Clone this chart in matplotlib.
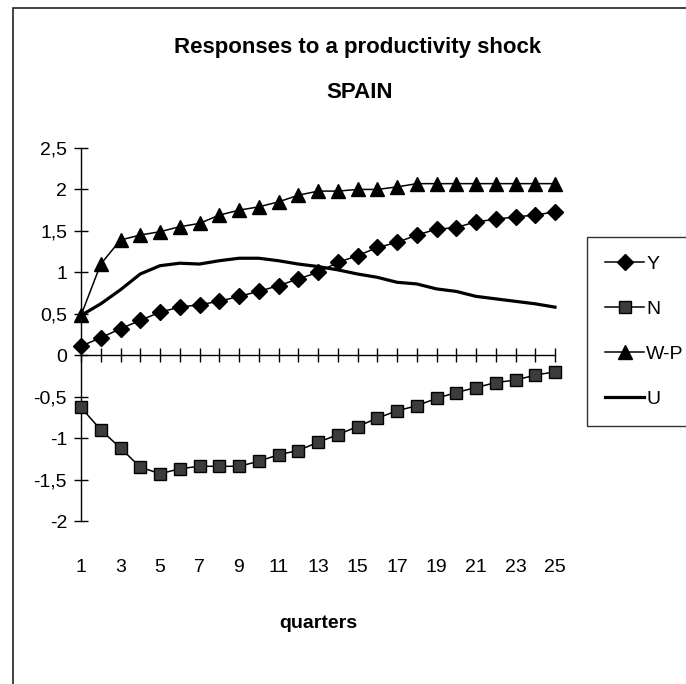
import matplotlib
matplotlib.use("Agg")
import matplotlib.pyplot as plt
from matplotlib.patches import Rectangle

plt.rcParams['font.family'] = ['Liberation Sans', 'DejaVu Sans']

# impulse responses, quarters 1..25
quarters = list(range(1, 26))
resp_y = [0.11, 0.21, 0.32, 0.42, 0.52, 0.58, 0.61, 0.65, 0.71, 0.77, 0.84, 0.92, 1.00,
          1.12, 1.20, 1.30, 1.36, 1.45, 1.52, 1.54, 1.61, 1.64, 1.67, 1.69, 1.73]
resp_n = [-0.63, -0.90, -1.12, -1.35, -1.43, -1.37, -1.34, -1.34, -1.34, -1.28, -1.20, -1.15, -1.05,
          -0.96, -0.86, -0.76, -0.67, -0.61, -0.52, -0.45, -0.39, -0.33, -0.30, -0.24, -0.20]
resp_wp = [0.48, 1.10, 1.39, 1.45, 1.49, 1.55, 1.59, 1.69, 1.75, 1.79, 1.85, 1.93, 1.98,
           1.98, 2.00, 2.00, 2.03, 2.07, 2.07, 2.07, 2.07, 2.07, 2.07, 2.07, 2.07]
resp_u = [0.48, 0.62, 0.79, 0.98, 1.08, 1.11, 1.10, 1.14, 1.17, 1.17, 1.14, 1.10, 1.07,
          1.03, 0.98, 0.94, 0.88, 0.86, 0.80, 0.77, 0.71, 0.68, 0.65, 0.62, 0.58]

yticks = [-2, -1.5, -1, -0.5, 0, 0.5, 1, 1.5, 2, 2.5]
ytick_labels = ["-2", "-1,5", "-1", "-0,5", "0", "0,5", "1", "1,5", "2", "2,5"]
xtick_labels = list(range(1, 26, 2))

fig = plt.figure(figsize=(6.86, 6.84), dpi=100)
ax = fig.add_axes([81 / 686, 1 - 521 / 684, 474 / 686, 373 / 684])

ax.plot(quarters, resp_y, color='black', lw=1.1, marker='D', ms=8,
        mfc='black', mec='black', label='Y', clip_on=False, zorder=4)
ax.plot(quarters, resp_n, color='black', lw=1.1, marker='s', ms=9,
        mfc='#3c3c3c', mec='black', label='N', clip_on=False, zorder=4)
ax.plot(quarters, resp_wp, color='black', lw=1.1, marker='^', ms=10,
        mfc='black', mec='black', label='W-P', clip_on=False, zorder=4)
ax.plot(quarters, resp_u, color='black', lw=2.3, label='U', clip_on=False, zorder=3)

ax.set_xlim(1, 25)
ax.set_ylim(-2, 2.5)

for side in ('top', 'right'):
    ax.spines[side].set_visible(False)
ax.spines['bottom'].set_position(('data', 0))
ax.spines['bottom'].set_linewidth(1.0)
ax.spines['left'].set_linewidth(1.0)

ax.set_xticks(quarters)
ax.tick_params(axis='x', direction='inout', length=10, width=1.0, labelbottom=False)
ax.set_yticks(yticks)
ax.set_yticklabels(ytick_labels)
ax.tick_params(axis='y', direction='inout', length=10, width=1.0, pad=5, labelsize=14)

# category labels sit under the plot area, not on the zero line
sec = ax.secondary_xaxis(-0.102)
sec.set_xticks(xtick_labels)
sec.set_xticklabels([str(q) for q in xtick_labels])
sec.tick_params(length=0, labelsize=14, pad=0)
sec.spines['bottom'].set_visible(False)
sec.set_xlabel("quarters", fontsize=14, fontweight='bold', labelpad=28)

fig.text(358 / 686, 1 - 48 / 684, "Responses to a productivity shock",
         ha='center', va='center', fontsize=16, fontweight='bold')
fig.text(360 / 686, 1 - 93 / 684, "SPAIN",
         ha='center', va='center', fontsize=16, fontweight='bold')

leg = fig.legend(loc='upper left', bbox_to_anchor=(587 / 686, 1 - 237 / 684),
                 frameon=True, fancybox=False, fontsize=14, handlelength=2.0,
                 handletextpad=0.1, labelspacing=1.4, borderpad=0.95,
                 borderaxespad=0)
leg.get_frame().set_edgecolor('black')
leg.get_frame().set_linewidth(1.0)

# chart frame
fig.patches.append(Rectangle((13 / 686, -0.1), 1.0, 1.1 - 8 / 684,
                             transform=fig.transFigure, fill=False,
                             edgecolor='#222222', lw=1.2))

fig.savefig("out.png", dpi=100)
